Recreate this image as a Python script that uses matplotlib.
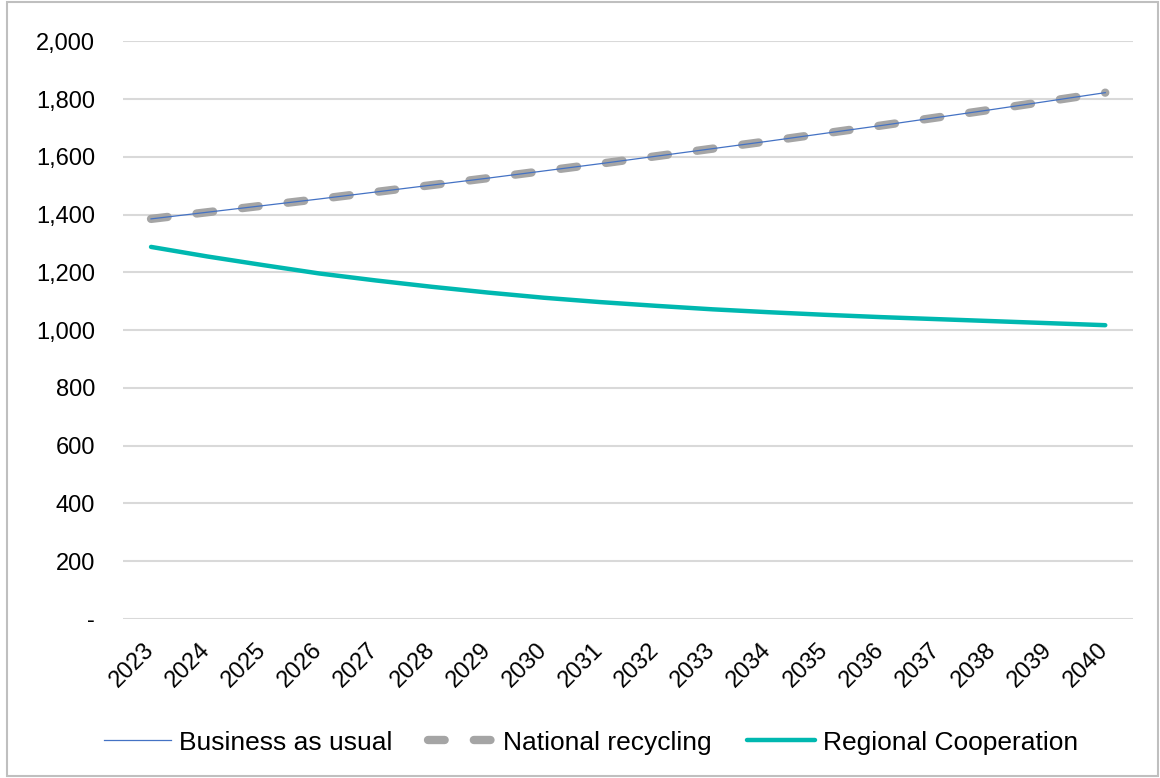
import numpy as np
import matplotlib.pyplot as plt
import matplotlib.transforms as mtransforms
from matplotlib.patches import Rectangle
from matplotlib.ticker import FuncFormatter

plt.rcParams['font.family'] = ['Liberation Sans', 'DejaVu Sans']

years = [str(y) for y in range(2023, 2041)]
business_as_usual = [1385, 1408, 1431, 1454, 1478, 1502, 1526, 1551, 1576,
                     1602, 1628, 1654, 1681, 1708, 1736, 1764, 1793, 1822]
national_recycling = [1385, 1408, 1431, 1454, 1478, 1502, 1526, 1551, 1576,
                      1602, 1628, 1654, 1681, 1708, 1736, 1764, 1793, 1822]
regional_cooperation = [1288, 1255, 1225, 1196, 1172, 1150, 1130, 1112, 1097,
                        1084, 1072, 1062, 1053, 1045, 1038, 1031, 1024, 1017]


def y_fmt(v, pos):
    return '-' if v == 0 else f'{int(v):,}'


fig = plt.figure(figsize=(11.6, 7.78), dpi=100)
fig.patches.append(Rectangle((0.006, 0.003), 0.992, 0.994, transform=fig.transFigure,
                             fill=False, edgecolor='#bfbfbf', linewidth=1.5))
ax = fig.add_axes([0.106, 0.2044, 0.871, 0.7426])

x = np.arange(len(years))
ax.plot(x, business_as_usual, color='#4472c4', lw=0.9, label='Business as usual', zorder=3)
ax.plot(x, national_recycling, color='#a5a5a5', lw=6, dashes=(2.0, 3.5),
        dash_capstyle='round', label='National recycling', zorder=2)
ax.plot(x, regional_cooperation, color='#00b8b0', lw=3.2, solid_capstyle='round',
        label='Regional Cooperation', zorder=3)

ax.set_xlim(-0.5, len(years) - 0.5)
ax.set_ylim(0, 2000)
ax.set_yticks(range(0, 2001, 200))
ax.yaxis.set_major_formatter(FuncFormatter(y_fmt))
ax.set_xticks(x)
ax.set_xticklabels(years, rotation=45, ha='right', rotation_mode='anchor')
ax.tick_params(axis='both', length=0, labelsize=17, colors='black')
ax.tick_params(axis='y', pad=20)
ax.tick_params(axis='x', pad=14)
shift = mtransforms.ScaledTranslation(-8 / 100, 0, fig.dpi_scale_trans)
for lbl in ax.get_xticklabels():
    lbl.set_transform(lbl.get_transform() + shift)
ax.grid(axis='y', color='#d9d9d9', lw=1.5)
ax.set_axisbelow(True)
for s in ax.spines.values():
    s.set_visible(False)

ax.legend(loc='center', bbox_to_anchor=(0.463, -0.214), ncol=3, frameon=False,
          fontsize=19, handlelength=2.55, columnspacing=1.35, handletextpad=0.3)

fig.savefig('out.png', dpi=100)
